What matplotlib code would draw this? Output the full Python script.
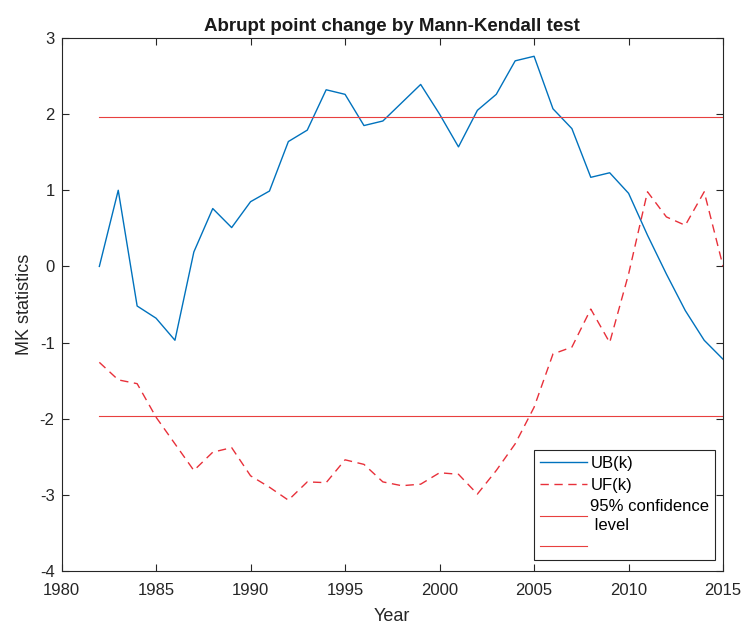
import numpy as np
import matplotlib.pyplot as plt

plt.rcParams['font.family'] = ['Liberation Sans', 'DejaVu Sans']
plt.rcParams['axes.unicode_minus'] = False

years = list(range(1982, 2016))
ub = [0.0, 1.0, -0.52, -0.68, -0.97, 0.19, 0.76, 0.51, 0.85, 0.99,
      1.64, 1.79, 2.32, 2.26, 1.85, 1.91, 2.15, 2.39, 2.0, 1.57,
      2.05, 2.26, 2.70, 2.76, 2.07, 1.81, 1.17, 1.23, 0.96, 0.41,
      -0.1, -0.58, -0.97, -1.22]
uf = [-1.26, -1.49, -1.54, -1.98, -2.33, -2.68, -2.44, -2.38, -2.75, -2.9,
      -3.07, -2.83, -2.84, -2.54, -2.6, -2.83, -2.88, -2.86, -2.71, -2.73,
      -2.99, -2.68, -2.33, -1.85, -1.15, -1.06, -0.56, -1.0, -0.1, 0.98,
      0.65, 0.54, 0.98, 0.0]
conf = 1.96

fig = plt.figure(figsize=(7.45, 6.28), dpi=100)
ax = fig.add_axes([0.0826, 0.0908, 0.888, 0.8487])

ax.plot(years, ub, color='#0072BD', linewidth=1.0, label='UB(k)')
ax.plot(years, uf, color='#E8303A', linewidth=1.0, linestyle=(0, (6, 4)), label='UF(k)')
ax.plot([years[0], years[-1]], [conf, conf], color='#E8403F', linewidth=0.8,
        label='95% confidence\n level')
ax.plot([years[0], years[-1]], [-conf, -conf], color='#E8403F', linewidth=0.8, label=' ')

ax.set_xlim(1980, 2015)
ax.set_ylim(-4, 3)
ax.set_xticks(np.arange(1980, 2016, 5))
ax.set_yticks(np.arange(-4, 4, 1))
ax.tick_params(direction='in', top=True, right=True, labelsize=12, length=5, width=0.8,
               colors='#262626')
ax.tick_params(axis='x', pad=9)
ax.tick_params(axis='y', pad=5)
for s in ax.spines.values():
    s.set_linewidth(0.8)
    s.set_color('#262626')

ax.set_xlabel('Year', fontsize=13, color='#262626', labelpad=7)
ax.set_ylabel('MK statistics', fontsize=13, color='#262626', labelpad=5)
ax.set_title('Abrupt point change by Mann-Kendall test', fontsize=13.5, fontweight='bold',
             color='#1a1a1a', pad=5)

leg = ax.legend(loc='lower right', bbox_to_anchor=(0.988, 0.02), fontsize=12,
                fancybox=False, framealpha=1, edgecolor='#262626', handlelength=2.8,
                borderpad=0.35, labelspacing=0.38, handletextpad=0.2, borderaxespad=0)
leg.get_frame().set_linewidth(0.8)
leg.get_texts()[2].set_linespacing(1.35)

plt.savefig('out.png', dpi=100)
